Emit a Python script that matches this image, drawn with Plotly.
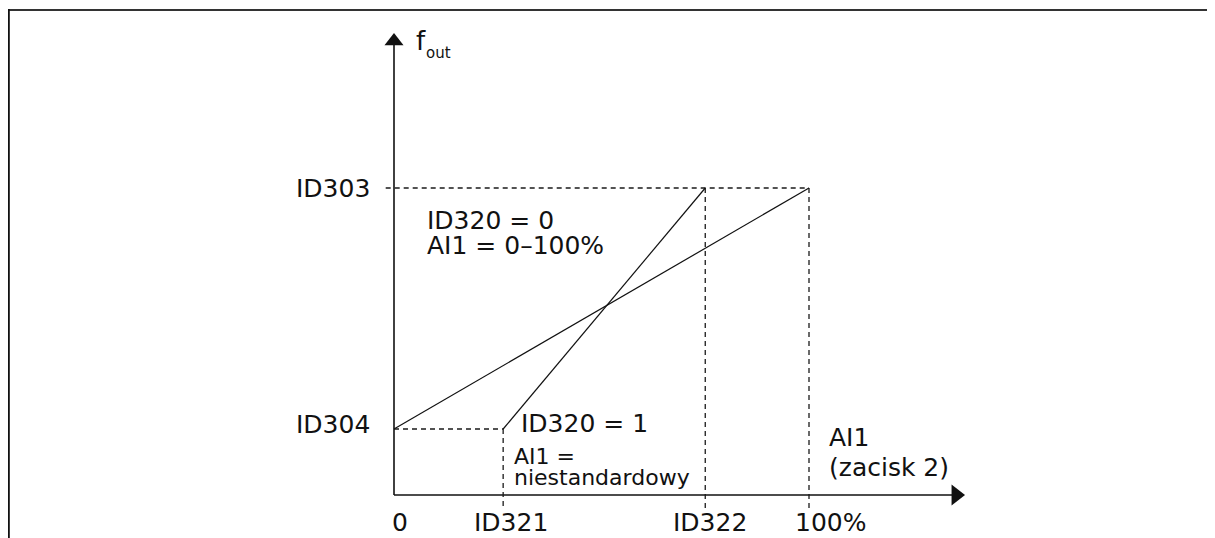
import plotly.graph_objects as go

# --- data (chart units: x in % of AI1, y in % of fout scale) ---
tick_x = [0, 26.3, 75, 100]
tick_labels = ["0", "ID321", "ID322", "100%"]
level_y = [21.5, 100]
level_labels = ["ID304", "ID303"]

default_x = [0, 100]          # ID320 = 0, AI1 = 0-100%
default_y = [21.5, 100]
custom_x = [26.3, 75]         # ID320 = 1, custom range
custom_y = [21.5, 100]

x_axis_end = 137.6
y_axis_end = 150.5

# the page body adds an 8px margin, so the figure is drawn 8px smaller / shifted
W, H = 1207, 530
X0, XS = 386, 4.15            # axis origin in figure pixels, px per unit
Y0, YS = 487, 3.07

FONT = "DejaVu Sans"
INK = "#111111"
BIG, SMALL = 25, 22

fig = go.Figure()

# axes
fig.add_trace(go.Scatter(x=[0, 0], y=[0, y_axis_end - 3], mode="lines",
                         line=dict(color=INK, width=1.6), hoverinfo="skip"))
fig.add_trace(go.Scatter(x=[0, x_axis_end - 3], y=[0, 0], mode="lines",
                         line=dict(color=INK, width=1.6), hoverinfo="skip"))
fig.add_trace(go.Scatter(x=[0], y=[y_axis_end - 8.25 / YS], mode="markers",
                         marker=dict(symbol="triangle-up", size=16.5, color=INK), hoverinfo="skip"))
fig.add_trace(go.Scatter(x=[x_axis_end - 9 / XS], y=[0], mode="markers",
                         marker=dict(symbol="triangle-right", size=18, color=INK), hoverinfo="skip"))

dash = dict(color="#1a1a1a", width=1.3, dash="5px,4px")
# horizontal guides
fig.add_trace(go.Scatter(x=[0, custom_x[0]], y=[level_y[0], level_y[0]], mode="lines", line=dash, hoverinfo="skip"))
fig.add_trace(go.Scatter(x=[-2, default_x[1]], y=[level_y[1], level_y[1]], mode="lines", line=dash, hoverinfo="skip"))
# vertical guides
fig.add_trace(go.Scatter(x=[custom_x[0], custom_x[0]], y=[custom_y[0], -4.2], mode="lines", line=dash, hoverinfo="skip"))
fig.add_trace(go.Scatter(x=[custom_x[1], custom_x[1]], y=[custom_y[1], -4.2], mode="lines", line=dash, hoverinfo="skip"))
fig.add_trace(go.Scatter(x=[default_x[1], default_x[1]], y=[default_y[1], -4.2], mode="lines", line=dash, hoverinfo="skip"))

# the two characteristics
fig.add_trace(go.Scatter(x=default_x, y=default_y, mode="lines", line=dict(color=INK, width=1.2), hoverinfo="skip"))
fig.add_trace(go.Scatter(x=custom_x, y=custom_y, mode="lines", line=dict(color=INK, width=1.2), hoverinfo="skip"))


def label(text, x, y, xshift=0, yshift=0, xanchor="left", size=BIG):
    fig.add_annotation(text=text, x=x, y=y, xshift=xshift, yshift=yshift, xanchor=xanchor,
                       yanchor="middle", showarrow=False, font=dict(family=FONT, size=size, color=INK))


# tick labels under x axis
for tx, tl, sh in zip(tick_x, tick_labels, [6, 8, 5, 21]):
    label(tl, tx, 0, xshift=sh, yshift=-27, xanchor="center")
# fout levels
for ly, ll, sh in zip(level_y, level_labels, [5, 0]):
    label(ll, 0, ly, xshift=-22, yshift=sh, xanchor="right")

label("f", 0, y_axis_end, xshift=20, yshift=-8, size=26)
label("out", 0, y_axis_end, xshift=30, yshift=-20, size=15)

label("ID320 = 0", 0, level_y[1], xshift=31, yshift=-32)
label("AI1 = 0–100%", 0, level_y[1], xshift=31, yshift=-57)
label("ID320 = 1", custom_x[0], custom_y[0], xshift=16, yshift=6)
label("AI1 =", custom_x[0], 0, xshift=9, yshift=39, size=SMALL)
label("niestandardowy", custom_x[0], 0, xshift=9, yshift=18, size=SMALL)
label("AI1", default_x[1], 0, xshift=18, yshift=58)
label("(zacisk 2)", default_x[1], 0, xshift=18, yshift=28)

# page frame (top and left rule)
fig.add_shape(type="line", xref="paper", yref="paper", x0=0, x1=1, y0=1 - 2 / H, y1=1 - 2 / H,
              line=dict(color="#333333", width=2))
fig.add_shape(type="line", xref="paper", yref="paper", x0=0.8 / W, x1=0.8 / W, y0=0, y1=1 - 1 / H,
              line=dict(color="#111111", width=2))

fig.update_layout(
    width=W, height=H, margin=dict(l=0, r=0, t=0, b=0),
    paper_bgcolor="white", plot_bgcolor="white", showlegend=False,
    xaxis=dict(range=[-X0 / XS, (W - X0) / XS], visible=False, fixedrange=True),
    yaxis=dict(range=[(Y0 - H) / YS, Y0 / YS], visible=False, fixedrange=True),
)

fig.write_html("out.html")
